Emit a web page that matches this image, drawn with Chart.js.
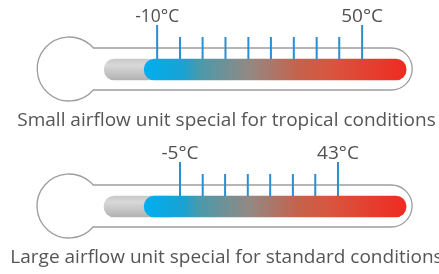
<!DOCTYPE html>
<html>
<head>
<meta charset="utf-8">
<script src="https://cdn.jsdelivr.net/npm/chart.js@4/dist/chart.umd.min.js"></script>
<style>
  body { margin: 0; background: #fff; }
  canvas { display: block; }
</style>
</head>
<body>
<canvas id="chart1" width="439" height="137"></canvas>
<canvas id="chart2" width="439" height="137"></canvas>
<script>
// thermometer data (one entry per unit)
var captions = ["Small airflow unit special for tropical conditions", "Large airflow unit special for standard conditions"];
var lowTemps = [-10, -5];
var highTemps = [50, 43];
var tickTemps = [
  [-10, -3.3, 3.3, 10, 16.7, 23.3, 30, 36.7, 43.3, 50],
  [-5, 1.9, 8.7, 15.6, 22.4, 29.3, 36.1, 43]
];
var grayRanges = [[-25.5, -10], [-28.1, -5]];
var colorRanges = [[-13.8, 62.9], [-15.9, 63.7]];
var axisMin = [-56, -59.7];
var axisMax = [72.5, 73.7];

// layout (canvas px, y measured from top)
var barY = 69.5;
var barSize = 21;
var majorTop = 25;
var minorTop = 37;
var fontName = "'Open Sans', 'Noto Sans', sans-serif";

function colorGradient(context) {
  var chart = context.chart;
  if (!chart.chartArea) return "#00aeef";
  var i = chart.options.unitIndex;
  var x = chart.scales.x;
  var x0 = x.getPixelForValue(colorRanges[i][0]);
  var x1 = x.getPixelForValue(colorRanges[i][1]);
  var g = chart.ctx.createLinearGradient(x0, 0, x1, 0);
  g.addColorStop(0, "#00aeef");
  g.addColorStop(0.15, "#1aa2d2");
  g.addColorStop(0.21, "#4a9aac");
  g.addColorStop(0.405, "#948882");
  g.addColorStop(0.59, "#c5624c");
  g.addColorStop(0.71, "#d8553f");
  g.addColorStop(1, "#ef2b22");
  return g;
}

function grayGradient(context) {
  var chart = context.chart;
  if (!chart.chartArea) return "#c6c6c6";
  var y = chart.scales.y.getPixelForValue(barY);
  var g = chart.ctx.createLinearGradient(0, y - barSize / 2, 0, y + barSize / 2);
  g.addColorStop(0, "#c9c9c9");
  g.addColorStop(0.3, "#d8d8d8");
  g.addColorStop(1, "#b2b2b2");
  return g;
}

// outline, bulb, temperature labels and caption
var thermoPlugin = {
  id: "thermo",
  beforeDatasetsDraw: function (chart) {
    var ctx = chart.ctx;
    var i = chart.options.unitIndex;
    var x = chart.scales.x;
    var y = chart.scales.y;
    var cy = y.getPixelForValue(barY) - 0.5;
    var left = x.getPixelForValue(grayRanges[i][0]);
    var right = x.getPixelForValue(colorRanges[i][1]);
    var half = 21;
    var capX = right + 6 - half;
    var bx = left - 35;
    var br = 32;
    var a = Math.asin(half / br);
    var jx = bx + Math.cos(a) * br;
    ctx.save();
    ctx.strokeStyle = "#9d9d9d";
    ctx.lineWidth = 1.3;
    ctx.beginPath();
    ctx.moveTo(jx, cy - half);
    ctx.lineTo(capX, cy - half);
    ctx.arc(capX, cy, half, -Math.PI / 2, Math.PI / 2, false);
    ctx.lineTo(jx, cy + half);
    ctx.arc(bx, cy, br, a, Math.PI * 2 - a, false);
    ctx.closePath();
    ctx.stroke();
    ctx.restore();
  },
  afterDatasetsDraw: function (chart) {
    var ctx = chart.ctx;
    var i = chart.options.unitIndex;
    var x = chart.scales.x;
    ctx.save();
    ctx.fillStyle = "#505050";
    ctx.textAlign = "center";
    ctx.textBaseline = "alphabetic";
    ctx.font = "19px " + fontName;
    ctx.fillText(lowTemps[i] + "°C", x.getPixelForValue(lowTemps[i]), 22, 44);
    ctx.fillText(highTemps[i] + "°C", x.getPixelForValue(highTemps[i]), 22, 44);
    // same horizontal squeeze for both captions, fitted to the first one
    ctx.fillStyle = "#555555";
    ctx.font = "19px " + fontName;
    var squeeze = 421 / ctx.measureText(captions[0]).width;
    ctx.fillText(captions[i], 226.5, 126, ctx.measureText(captions[i]).width * squeeze);
    ctx.restore();
  }
};

function makeChart(id, i) {
  var tickData = [];
  tickTemps[i].forEach(function (t, k) {
    var top = (k === 0 || k === tickTemps[i].length - 1) ? majorTop : minorTop;
    tickData.push({ x: t, y: barY - barSize / 2 });
    tickData.push({ x: t, y: top });
    tickData.push({ x: t, y: null });
  });

  return new Chart(document.getElementById(id), {
    type: "bar",
    data: {
      datasets: [
        {
          type: "line",
          data: tickData,
          borderColor: "#2a8fd2",
          borderWidth: 2,
          pointRadius: 0,
          spanGaps: false,
          borderCapStyle: "butt"
        },
        {
          indexAxis: "y",
          data: [{ x: colorRanges[i], y: barY }],
          backgroundColor: colorGradient,
          barThickness: barSize,
          borderRadius: barSize / 2,
          borderSkipped: false,
          grouped: false
        },
        {
          indexAxis: "y",
          data: [{ x: grayRanges[i], y: barY }],
          backgroundColor: grayGradient,
          barThickness: barSize,
          borderRadius: barSize / 2,
          borderSkipped: false,
          grouped: false
        }
      ]
    },
    options: {
      unitIndex: i,
      responsive: false,
      animation: false,
      layout: { padding: 0 },
      plugins: { legend: { display: false }, tooltip: { enabled: false } },
      scales: {
        x: { type: "linear", min: axisMin[i], max: axisMax[i], offset: false, display: false },
        y: { type: "linear", min: 0, max: 137, reverse: true, offset: false, display: false }
      }
    },
    plugins: [thermoPlugin]
  });
}

makeChart("chart1", 0);
makeChart("chart2", 1);
</script>
</body>
</html>
